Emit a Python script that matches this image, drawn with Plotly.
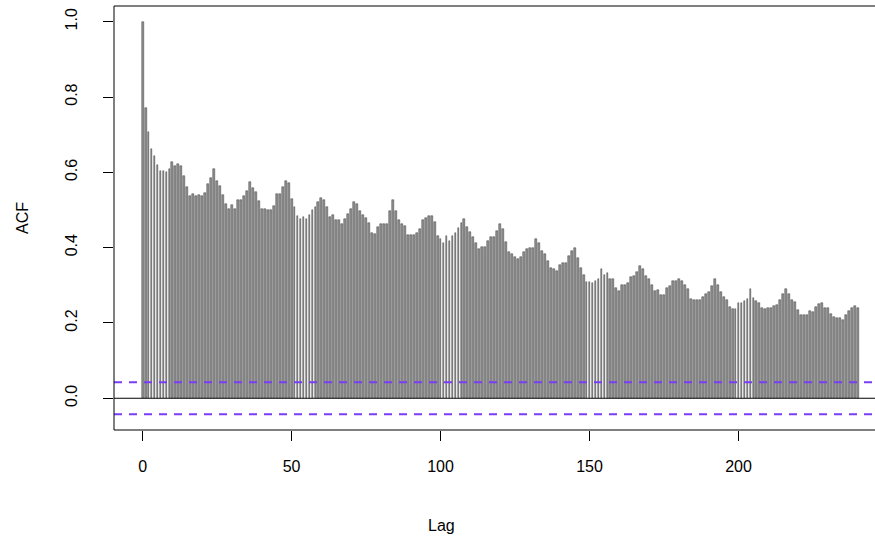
import plotly.graph_objects as go

# ACF values (lags 0..240)
acf_lag_000_059 = [1.000, 0.770, 0.708, 0.662, 0.644, 0.619, 0.604, 0.604, 0.600, 0.609,
                   0.627, 0.618, 0.622, 0.616, 0.589, 0.560, 0.537, 0.543, 0.537, 0.540,
                   0.537, 0.546, 0.568, 0.586, 0.609, 0.577, 0.564, 0.540, 0.516, 0.502,
                   0.513, 0.502, 0.526, 0.526, 0.536, 0.550, 0.574, 0.558, 0.547, 0.524,
                   0.502, 0.502, 0.499, 0.499, 0.511, 0.542, 0.542, 0.562, 0.577, 0.572,
                   0.529, 0.507, 0.485, 0.475, 0.482, 0.475, 0.488, 0.500, 0.508, 0.520]
acf_lag_060_119 = [0.533, 0.527, 0.508, 0.482, 0.487, 0.474, 0.473, 0.464, 0.476, 0.489,
                   0.502, 0.522, 0.515, 0.497, 0.487, 0.480, 0.466, 0.438, 0.437, 0.456,
                   0.462, 0.462, 0.462, 0.496, 0.526, 0.497, 0.473, 0.464, 0.458, 0.434,
                   0.434, 0.434, 0.440, 0.449, 0.473, 0.478, 0.485, 0.485, 0.467, 0.431,
                   0.422, 0.411, 0.432, 0.418, 0.431, 0.440, 0.451, 0.465, 0.475, 0.454,
                   0.441, 0.428, 0.413, 0.396, 0.402, 0.403, 0.418, 0.428, 0.428, 0.445]
acf_lag_120_179 = [0.462, 0.449, 0.414, 0.388, 0.382, 0.376, 0.371, 0.376, 0.388, 0.397,
                   0.399, 0.399, 0.424, 0.411, 0.391, 0.382, 0.364, 0.346, 0.342, 0.339,
                   0.353, 0.360, 0.360, 0.379, 0.392, 0.399, 0.373, 0.347, 0.327, 0.309,
                   0.309, 0.307, 0.311, 0.316, 0.342, 0.327, 0.332, 0.318, 0.318, 0.293,
                   0.285, 0.301, 0.301, 0.307, 0.323, 0.324, 0.335, 0.351, 0.342, 0.324,
                   0.316, 0.302, 0.285, 0.287, 0.274, 0.274, 0.293, 0.299, 0.311, 0.311]
acf_lag_180_240 = [0.318, 0.312, 0.302, 0.289, 0.263, 0.262, 0.261, 0.262, 0.268, 0.276,
                   0.282, 0.298, 0.316, 0.301, 0.282, 0.270, 0.261, 0.243, 0.237, 0.237,
                   0.254, 0.254, 0.259, 0.264, 0.290, 0.265, 0.257, 0.254, 0.239, 0.237,
                   0.240, 0.240, 0.246, 0.247, 0.262, 0.278, 0.289, 0.277, 0.261, 0.256,
                   0.234, 0.221, 0.221, 0.221, 0.231, 0.230, 0.243, 0.249, 0.252, 0.241,
                   0.239, 0.225, 0.215, 0.212, 0.212, 0.207, 0.222, 0.232, 0.240, 0.245,
                   0.241]

acf_values = acf_lag_000_059 + acf_lag_060_119 + acf_lag_120_179 + acf_lag_180_240
lags = list(range(len(acf_values)))
ci_bound = 0.0426
x_ticks = [0, 50, 100, 150, 200]
y_ticks = [0.0, 0.2, 0.4, 0.6, 0.8, 1.0]
y_tick_labels = ["0.0", "0.2", "0.4", "0.6", "0.8", "1.0"]

FONT = "Liberation Sans, Arial, Helvetica, sans-serif"

fig = go.Figure()
fig.add_trace(go.Bar(
    x=lags, y=acf_values, width=0.62,
    marker=dict(color="#8f8f8f", line=dict(color="#404040", width=0.5)),
    showlegend=False, hoverinfo="x+y",
))

fig.add_hline(y=0, line=dict(color="black", width=1))
for yv in (ci_bound, -ci_bound):
    fig.add_hline(y=yv, line=dict(color="#7a3cf5", width=2, dash="8px,7px"))

# frame (right side lies off the canvas, as in the reference)
fig.add_shape(type="rect", xref="paper", yref="paper", x0=0, x1=1.05, y0=0, y1=1,
              line=dict(color="black", width=1), fillcolor="rgba(0,0,0,0)", layer="above")

fig.update_layout(
    width=875, height=541,
    margin=dict(l=114, r=0, t=6, b=111, autoexpand=False),
    plot_bgcolor="white", paper_bgcolor="white",
    bargap=0,
    font=dict(family=FONT, size=16, color="black"),
    xaxis=dict(range=[-9.6, 245.8], tickvals=x_ticks, ticks="outside", ticklen=10,
               tickcolor="black", showgrid=False, zeroline=False, showline=False,
               ticklabelstandoff=12, tickfont=dict(size=16), automargin=False),
    yaxis=dict(range=[-0.0843, 1.0417], tickvals=y_ticks, ticktext=y_tick_labels,
               ticks="outside", ticklen=10, tickcolor="black", tickangle=-90,
               showgrid=False, zeroline=False, showline=False,
               ticklabelstandoff=20, tickfont=dict(size=16), automargin=False),
    annotations=[
        dict(text="Lag", xref="paper", yref="paper", x=(143 + 2.98 * 100 - 114) / 761,
             y=0, showarrow=False, font=dict(size=16), xanchor="center", yanchor="middle",
             yshift=-95),
        dict(text="ACF", xref="paper", yref="paper", x=0, y=0.5, showarrow=False,
             textangle=-90, font=dict(size=16), xanchor="center", yanchor="middle",
             xshift=-92),
    ],
)

fig.write_html("out.html", config={"displayModeBar": False},
               post_script="document.body.style.margin='0';document.body.style.overflow='hidden';")
